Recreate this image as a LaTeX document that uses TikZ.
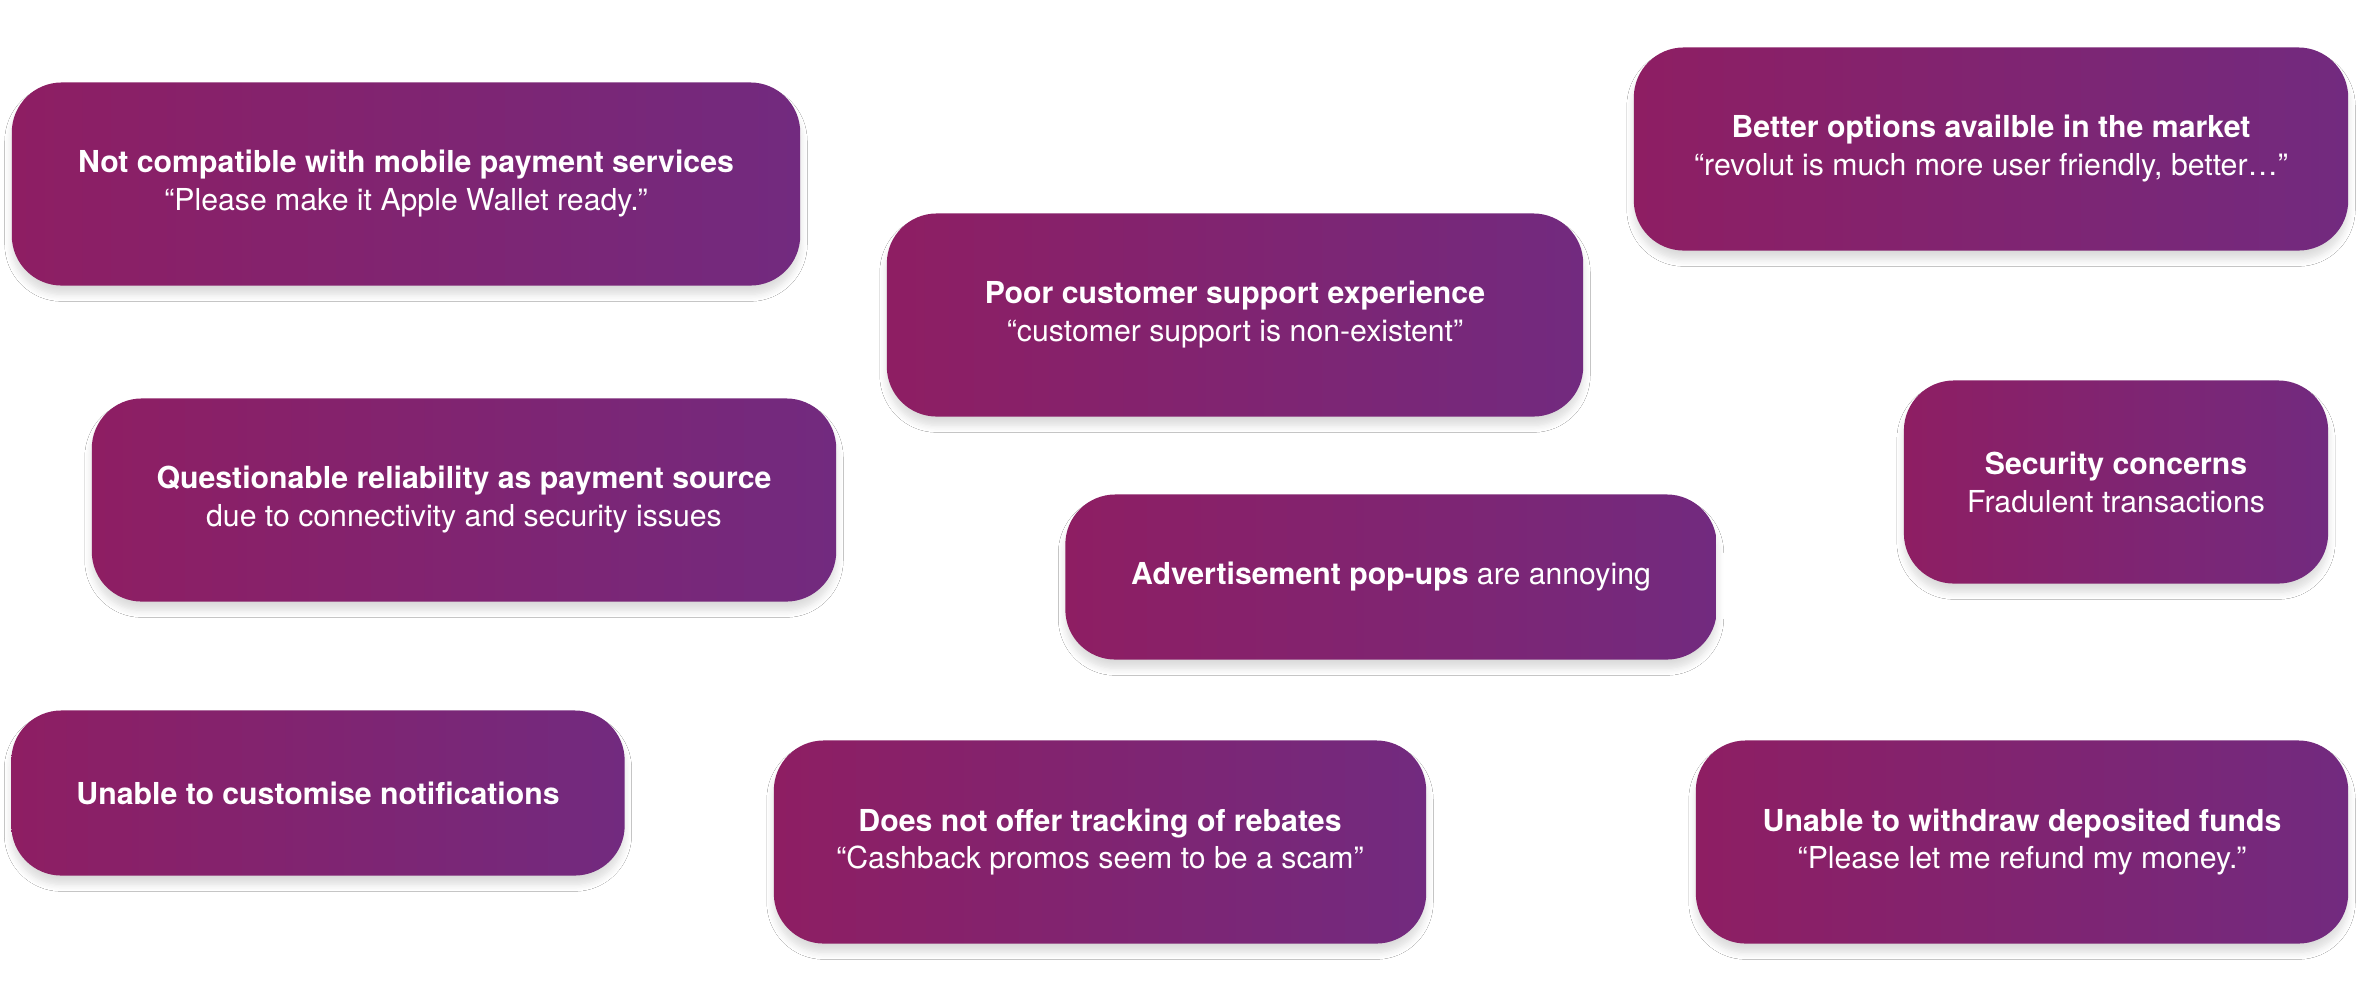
\documentclass[tikz,border=0pt]{standalone}
\usepackage{fontspec}
\setmainfont{TeX Gyre Heros}
\usetikzlibrary{shadows.blur}
\newcommand{\cardRadius}{5mm}
\newcommand{\cardHeight}{2.03cm}
\newcommand{\cardLow}{1.65cm}
\newcommand{\fontSize}{8.6}
\newcommand{\lineSkip}{10.8}
\definecolor{cardLeft}{RGB}{142,30,99}
\definecolor{cardRight}{RGB}{114,42,127}
\tikzstyle{card}=[draw=none, inner sep=0, outer sep=0, rounded corners=\cardRadius, left color=cardLeft, right color=cardRight, minimum height=\cardHeight, align=center, text=white, font=\fontsize{\fontSize}{\lineSkip}\selectfont, blur shadow={shadow xshift=0pt, shadow yshift=-2.5pt, shadow blur radius=2pt, shadow blur steps=6, shadow opacity=14}]

\begin{document}
\begin{tikzpicture}[x=0.01cm, y=-0.01cm]

% Frame
\path[fill=white, use as bounding box] (0,0) rectangle (2361,993);

% Left column
\node[card, minimum width=7.88cm] (compat) at (406,184)
  {\textbf{Not compatible with mobile payment services}\\“Please make it Apple Wallet ready.”};
\node[card, minimum width=7.44cm] (reliab) at (464,500)
  {\textbf{Questionable reliability as payment source}\\due to connectivity and security issues};
\node[card, minimum width=6.13cm, minimum height=\cardLow] (notif) at (318,793)
  {\textbf{Unable to customise notifications}};

% Middle column
\node[card, minimum width=6.96cm] (support) at (1235,315)
  {\textbf{Poor customer support experience}\\“customer support is non-existent”};
\node[card, minimum width=6.51cm, minimum height=\cardLow] (ads) at (1391,577)
  {\textbf{Advertisement pop-ups} are annoying};
\node[card, minimum width=6.52cm] (rebates) at (1100,842)
  {\textbf{Does not offer tracking of rebates}\\“Cashback promos seem to be a scam”};

% Right column
\node[card, minimum width=7.14cm] (better) at (1991,149)
  {\textbf{Better options availble in the market}\\“revolut is much more user friendly, better…”};
\node[card, minimum width=4.24cm] (security) at (2116,482)
  {\textbf{Security concerns}\\Fradulent transactions};
\node[card, minimum width=6.52cm] (withdraw) at (2022,842)
  {\textbf{Unable to withdraw deposited funds}\\“Please let me refund my money.”};

\end{tikzpicture}
\end{document}
